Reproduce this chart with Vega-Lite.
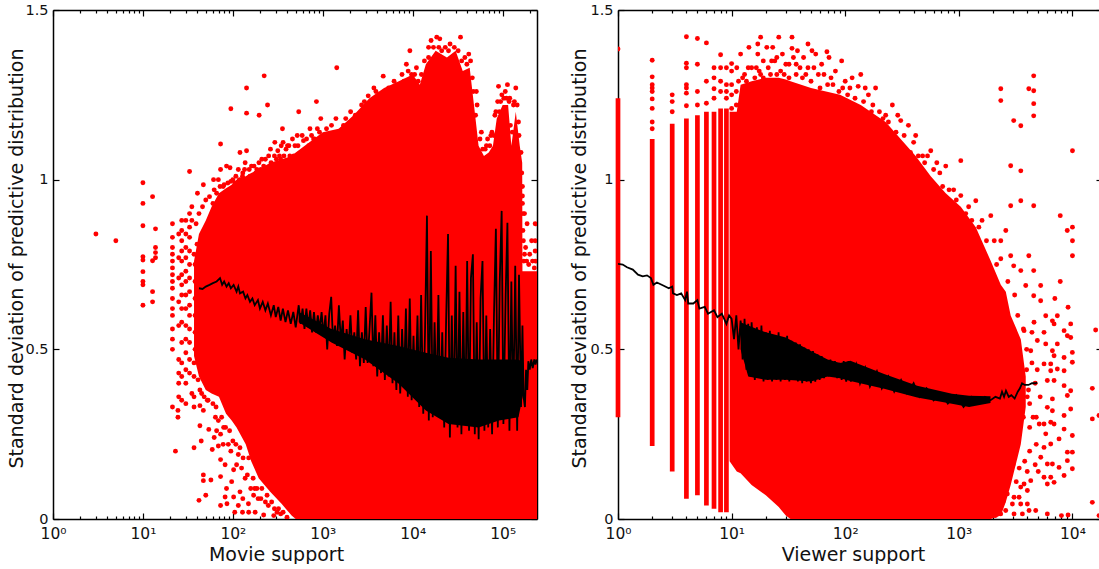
{"$schema":"https://vega.github.io/schema/vega-lite/v6.json","padding":{"left":6,"top":2,"right":0,"bottom":0},"background":"white","bounds":"flush","spacing":81,
"config":{"view":{"stroke":null},"axis":{"labelFont":"DejaVu Sans","titleFont":"DejaVu Sans","labelFontSize":14.5,"titleFontSize":19,"titleFontWeight":"normal","labelColor":"#111","titleColor":"#111","tickColor":"#000","domainColor":"#000","domainWidth":1.5,"tickWidth":1.2,"grid":false,"zindex":1,"labelFlush":false}},
"datasets":{
"lArea":[{"x":37,"lo":0.48,"hi":0.76},{"x":42,"lo":0.42,"hi":0.84},{"x":50,"lo":0.38,"hi":0.88},{"x":58,"lo":0.37,"hi":0.92},{"x":70,"lo":0.36,"hi":0.96},{"x":84,"lo":0.31,"hi":0.975},{"x":97,"lo":0.29,"hi":0.985},{"x":110,"lo":0.27,"hi":1.0},{"x":139,"lo":0.22,"hi":1.01},{"x":160,"lo":0.17,"hi":1.02},{"x":194,"lo":0.12,"hi":1.03},{"x":260,"lo":0.08,"hi":1.05},{"x":350,"lo":0.044,"hi":1.06},{"x":450,"lo":0.01,"hi":1.07},{"x":500,"lo":0,"hi":1.08},{"x":1000,"lo":0,"hi":1.14},{"x":1500,"lo":0,"hi":1.15},{"x":2200,"lo":0,"hi":1.19},{"x":3300,"lo":0,"hi":1.24},{"x":4800,"lo":0,"hi":1.27},{"x":7000,"lo":0,"hi":1.29},{"x":10000,"lo":0,"hi":1.31},{"x":12000,"lo":0,"hi":1.28},{"x":14000,"lo":0,"hi":1.34},{"x":18000,"lo":0,"hi":1.38},{"x":24000,"lo":0,"hi":1.36},{"x":30000,"lo":0,"hi":1.38},{"x":36000,"lo":0,"hi":1.32},{"x":43000,"lo":0,"hi":1.33},{"x":48000,"lo":0,"hi":1.22},{"x":54000,"lo":0,"hi":1.1},{"x":62000,"lo":0,"hi":1.07},{"x":70000,"lo":0,"hi":1.08},{"x":78000,"lo":0,"hi":1.1},{"x":86000,"lo":0,"hi":1.18},{"x":100000,"lo":0,"hi":1.22},{"x":115000,"lo":0,"hi":1.22},{"x":125000,"lo":0,"hi":1.1},{"x":140000,"lo":0,"hi":1.2},{"x":155000,"lo":0,"hi":1.1},{"x":165000,"lo":0,"hi":1.05},{"x":166000,"lo":0,"hi":0.73},{"x":241000,"lo":0,"hi":0.73}],
"lDots":[{"x":3,"y":0.84},{"x":5,"y":0.82},{"x":10,"y":0.991},{"x":10,"y":0.93},{"x":10,"y":0.864},{"x":10,"y":0.773},{"x":10,"y":0.763},{"x":10,"y":0.729},{"x":10,"y":0.7},{"x":10,"y":0.69},{"x":10,"y":0.63},{"x":12.8,"y":0.95},{"x":12.8,"y":0.761},{"x":12.8,"y":0.67},{"x":12.8,"y":0.64},{"x":13.8,"y":0.855},{"x":13.8,"y":0.8},{"x":13.8,"y":0.785},{"x":13.8,"y":0.77},
{"x":21.3,"y":0.87},{"x":21.3,"y":0.83},{"x":21.3,"y":0.8},{"x":21.3,"y":0.78},{"x":21.3,"y":0.76},{"x":21.3,"y":0.74},{"x":21.3,"y":0.72},{"x":21.3,"y":0.7},{"x":21.3,"y":0.68},{"x":21.3,"y":0.65},{"x":21.3,"y":0.62},{"x":21.3,"y":0.6},{"x":21.3,"y":0.56},{"x":21.3,"y":0.53},{"x":21.3,"y":0.5},{"x":21.3,"y":0.33},
{"x":23,"y":0.2},{"x":24.5,"y":0.3},{"x":24.5,"y":0.32},{"x":25,"y":0.84},{"x":25,"y":0.77},{"x":25,"y":0.71},{"x":25,"y":0.64},{"x":25,"y":0.57},{"x":25,"y":0.47},{"x":25,"y":0.43},{"x":25,"y":0.4},{"x":25,"y":0.36},
{"x":27,"y":0.88},{"x":27,"y":0.85},{"x":27,"y":0.82},{"x":27,"y":0.79},{"x":27,"y":0.76},{"x":27,"y":0.72},{"x":27,"y":0.69},{"x":27,"y":0.66},{"x":27,"y":0.62},{"x":27,"y":0.58},{"x":27,"y":0.52},{"x":27,"y":0.46},{"x":27,"y":0.42},{"x":27,"y":0.35},
{"x":30,"y":0.88},{"x":30,"y":0.84},{"x":30,"y":0.8},{"x":30,"y":0.77},{"x":30,"y":0.73},{"x":30,"y":0.7},{"x":30,"y":0.66},{"x":30,"y":0.62},{"x":30,"y":0.57},{"x":30,"y":0.53},{"x":30,"y":0.49},{"x":30,"y":0.44},{"x":30,"y":0.4},{"x":30,"y":0.34},
{"x":33,"y":1.024},{"x":33,"y":0.9},{"x":33,"y":0.86},{"x":33,"y":0.83},{"x":33,"y":0.79},{"x":33,"y":0.75},{"x":33,"y":0.71},{"x":33,"y":0.67},{"x":33,"y":0.63},{"x":33,"y":0.6},{"x":33,"y":0.56},{"x":33,"y":0.52},{"x":33,"y":0.47},{"x":33,"y":0.43},{"x":35,"y":0.37},{"x":35,"y":0.88},{"x":35,"y":0.92},
{"x":37,"y":0.33},{"x":37,"y":0.21},{"x":37,"y":0.42},{"x":37,"y":0.36},{"x":39,"y":0.87},{"x":40.4,"y":0.96},{"x":42,"y":0.055},{"x":42,"y":0.9},{"x":43,"y":0.334},{"x":43,"y":0.275},{"x":43,"y":0.38},{"x":44.5,"y":0.23},{"x":46,"y":0.92},{"x":47,"y":0.985},{"x":47,"y":0.32},{"x":47,"y":0.13},{"x":47,"y":0.113},{"x":50,"y":0.07},{"x":50,"y":0.94},{"x":52,"y":0.35},{"x":54,"y":0.264},{"x":55,"y":0.95},{"x":57,"y":0.115},{"x":59,"y":0.205},{"x":61,"y":1.0},{"x":62,"y":0.24},{"x":62,"y":0.97},{"x":65,"y":0.33},{"x":69,"y":1.0},{"x":69,"y":0.215},{"x":69,"y":0.29},{"x":73,"y":1.105},{"x":73,"y":1.03},{"x":73,"y":0.25},{"x":73,"y":0.175},{"x":73,"y":0.125},{"x":73,"y":0.04},{"x":78,"y":0.98},{"x":82,"y":0.065},{"x":82,"y":0.16},{"x":85,"y":1.04},{"x":85,"y":0.09},{"x":86,"y":0.045},{"x":89,"y":0.22},{"x":93,"y":1.035},{"x":95,"y":1.209},{"x":97,"y":0.11},{"x":102,"y":0.065},{"x":102,"y":0.145},{"x":105,"y":0.99},{"x":115,"y":1.03},{"x":115,"y":0.04},{"x":115,"y":0.19},{"x":120,"y":1.08},{"x":120,"y":0.08},{"x":125,"y":1.0},{"x":129,"y":1.02},{"x":129,"y":0.06},{"x":137,"y":1.05},{"x":137,"y":0.12},{"x":142,"y":1.27},{"x":142,"y":1.196},{"x":142,"y":1.085},{"x":149,"y":0.045},{"x":155,"y":1.01},{"x":158,"y":0.09},{"x":161,"y":1.04},{"x":177,"y":0.02},{"x":180,"y":1.02},{"x":191,"y":0.06},{"x":196,"y":1.19},{"x":205,"y":1.03},{"x":220,"y":1.04},{"x":220,"y":0.012},{"x":223,"y":1.306},{"x":243,"y":1.22},{"x":248,"y":0.04},{"x":266,"y":1.05},{"x":285,"y":0.01},{"x":293,"y":1.11},{"x":316,"y":1.085},{"x":322,"y":0.03},{"x":340,"y":1.06},{"x":356,"y":1.15},{"x":362,"y":1.11},{"x":362,"y":0.02},{"x":405,"y":1.1},{"x":430,"y":1.07},{"x":476,"y":1.07},{"x":520,"y":1.13},{"x":540,"y":1.2},{"x":610,"y":1.115},{"x":680,"y":1.07},{"x":720,"y":1.15},{"x":790,"y":1.12},{"x":850,"y":1.23},{"x":920,"y":1.14},{"x":1100,"y":1.15},{"x":1430,"y":1.33},{"x":1300,"y":1.13},{"x":1700,"y":1.16},{"x":2040,"y":1.2},{"x":2500,"y":1.18},{"x":2900,"y":1.23},{"x":3200,"y":1.247},{"x":3900,"y":1.26},{"x":4700,"y":1.305},{"x":5400,"y":1.27},{"x":6200,"y":1.29},{"x":7600,"y":1.31},{"x":8900,"y":1.32},{"x":9300,"y":1.38},{"x":11000,"y":1.33},{"x":13500,"y":1.35},{"x":16000,"y":1.41},{"x":18500,"y":1.42},{"x":20000,"y":1.415},{"x":23000,"y":1.39},{"x":28000,"y":1.35},{"x":34000,"y":1.42},{"x":38000,"y":1.36},{"x":42000,"y":1.37},{"x":46000,"y":1.3},{"x":51000,"y":1.26},{"x":58000,"y":1.14},{"x":66000,"y":1.1},{"x":74000,"y":1.13},{"x":82000,"y":1.19},{"x":90000,"y":1.275},{"x":95000,"y":1.23},{"x":107000,"y":1.26},{"x":120000,"y":1.24},{"x":140000,"y":1.27},{"x":132000,"y":1.22},{"x":150000,"y":1.17},{"x":166000,"y":0.952},{"x":166000,"y":0.93},{"x":175000,"y":0.9},{"x":187000,"y":0.87},{"x":210000,"y":0.82},{"x":230000,"y":0.87},{"x":230000,"y":0.82},{"x":230000,"y":0.79},{"x":230000,"y":0.76},{"x":225000,"y":0.74},{"x":220000,"y":0.08},{"x":235000,"y":0.06},{"x":200000,"y":0.78},{"x":180000,"y":0.8},{"x":172000,"y":0.76},
{"x":60,"y":0.93},{"x":66,"y":0.96},{"x":72,"y":0.98},{"x":80,"y":0.985},{"x":88,"y":0.99},{"x":95,"y":0.995},{"x":100,"y":1.0},{"x":108,"y":1.01},{"x":112,"y":0.99},{"x":118,"y":1.0},{"x":128,"y":1.01},{"x":135,"y":1.03},{"x":146,"y":1.0},{"x":152,"y":1.03},{"x":168,"y":1.01},{"x":172,"y":1.04},{"x":185,"y":1.03},{"x":195,"y":1.05},{"x":210,"y":1.06},{"x":215,"y":1.01},{"x":230,"y":1.06},{"x":240,"y":1.03},{"x":250,"y":1.07},{"x":262,"y":1.09},{"x":275,"y":1.04},{"x":290,"y":1.07},{"x":305,"y":1.06},{"x":330,"y":1.07},{"x":345,"y":1.1},{"x":370,"y":1.07},{"x":390,"y":1.09},{"x":420,"y":1.1},{"x":440,"y":1.05},{"x":460,"y":1.12},{"x":490,"y":1.1},{"x":510,"y":1.07},{"x":530,"y":1.1},{"x":560,"y":1.06},{"x":590,"y":1.13},{"x":640,"y":1.08},{"x":660,"y":1.12},{"x":700,"y":1.1},{"x":750,"y":1.13},{"x":810,"y":1.12},{"x":870,"y":1.15},{"x":950,"y":1.18},{"x":1020,"y":1.12},{"x":1150,"y":1.12},{"x":1250,"y":1.16},{"x":1400,"y":1.18},{"x":1600,"y":1.13},{"x":1800,"y":1.18},{"x":2100,"y":1.17},{"x":2300,"y":1.19},{"x":2700,"y":1.22},{"x":3000,"y":1.21},{"x":3500,"y":1.23},{"x":3700,"y":1.27},{"x":4300,"y":1.25},{"x":5000,"y":1.26},{"x":5800,"y":1.25},{"x":6800,"y":1.28},{"x":8000,"y":1.29},{"x":8500,"y":1.34},{"x":9700,"y":1.31},{"x":10500,"y":1.31},{"x":11500,"y":1.29},{"x":12500,"y":1.31},{"x":13000,"y":1.28},{"x":15000,"y":1.36},{"x":15000,"y":1.39},{"x":17000,"y":1.39},{"x":19500,"y":1.39},{"x":21000,"y":1.38},{"x":25000,"y":1.38},{"x":26000,"y":1.4},{"x":29000,"y":1.39},{"x":32000,"y":1.38},{"x":35000,"y":1.35},{"x":40000,"y":1.34},{"x":44000,"y":1.35},{"x":47000,"y":1.26},{"x":50000,"y":1.19},{"x":52000,"y":1.22},{"x":56000,"y":1.12},{"x":60000,"y":1.09},{"x":64000,"y":1.09},{"x":68000,"y":1.12},{"x":72000,"y":1.1},{"x":76000,"y":1.14},{"x":80000,"y":1.13},{"x":84000,"y":1.2},{"x":88000,"y":1.23},{"x":92000,"y":1.2},{"x":98000,"y":1.25},{"x":103000,"y":1.24},{"x":110000,"y":1.24},{"x":113000,"y":1.28},{"x":118000,"y":1.23},{"x":122000,"y":1.16},{"x":128000,"y":1.14},{"x":135000,"y":1.23},{"x":145000,"y":1.22},{"x":152000,"y":1.13},{"x":160000,"y":1.08},{"x":163000,"y":1.02},{"x":166000,"y":0.98},{"x":168000,"y":0.9},{"x":168000,"y":0.85},{"x":170000,"y":0.82},{"x":175000,"y":0.78},{"x":185000,"y":0.76},{"x":195000,"y":0.75},{"x":215000,"y":0.76},
{"x":37,"y":0.46},{"x":38,"y":0.5},{"x":38,"y":0.55},{"x":38,"y":0.6},{"x":38,"y":0.65},{"x":38,"y":0.7},{"x":38,"y":0.75},{"x":37,"y":0.78},{"x":40,"y":0.81},{"x":41,"y":0.41},{"x":45,"y":0.37},{"x":48,"y":0.36},{"x":53,"y":0.35},{"x":60,"y":0.34},{"x":64,"y":0.3},{"x":66,"y":0.26},{"x":75,"y":0.3},{"x":79,"y":0.27},{"x":78,"y":0.22},{"x":83,"y":0.27},{"x":92,"y":0.26},{"x":95,"y":0.2},{"x":100,"y":0.23},{"x":108,"y":0.22},{"x":110,"y":0.16},{"x":120,"y":0.21},{"x":125,"y":0.15},{"x":130,"y":0.18},{"x":145,"y":0.13},{"x":150,"y":0.18},{"x":168,"y":0.12},{"x":175,"y":0.09},{"x":185,"y":0.09},{"x":170,"y":0.07},{"x":205,"y":0.06},{"x":210,"y":0.09},{"x":230,"y":0.05},{"x":240,"y":0.07},{"x":270,"y":0.05},{"x":290,"y":0.03},{"x":310,"y":0.02},{"x":340,"y":0.015},{"x":400,"y":0.005},{"x":150,"y":0.02},{"x":128,"y":0.02},{"x":105,"y":0.02}],
"lCore":[{"x":540,"lo":0.58,"hi":0.61},{"x":1250,"lo":0.52,"hi":0.56},{"x":2950,"lo":0.47,"hi":0.53},{"x":6900,"lo":0.4,"hi":0.51},{"x":14000,"lo":0.32,"hi":0.49},{"x":25000,"lo":0.28,"hi":0.475},{"x":54000,"lo":0.27,"hi":0.47},{"x":91000,"lo":0.29,"hi":0.47},{"x":150000,"lo":0.3,"hi":0.47},{"x":170000,"lo":0.37,"hi":0.46}],
"lLine":[{"x":42,"y":0.68},{"x":46,"y":0.678},{"x":50,"y":0.685},{"x":55,"y":0.69},{"x":60,"y":0.695},{"x":66,"y":0.7},{"x":72,"y":0.71},{"x":76,"y":0.69},{"x":80,"y":0.7},{"x":85,"y":0.685},{"x":90,"y":0.695},{"x":95,"y":0.68},{"x":102,"y":0.69},{"x":110,"y":0.67},{"x":115,"y":0.685},{"x":120,"y":0.665},{"x":130,"y":0.67},{"x":138,"y":0.65},{"x":145,"y":0.66},{"x":155,"y":0.64},{"x":165,"y":0.65},{"x":175,"y":0.63},{"x":190,"y":0.645},{"x":200,"y":0.62},{"x":215,"y":0.64},{"x":230,"y":0.615},{"x":245,"y":0.635},{"x":265,"y":0.6},{"x":285,"y":0.63},{"x":300,"y":0.595},{"x":320,"y":0.625},{"x":340,"y":0.585},{"x":360,"y":0.62},{"x":385,"y":0.58},{"x":410,"y":0.615},{"x":440,"y":0.575},{"x":470,"y":0.61},{"x":500,"y":0.565},{"x":540,"y":0.63},{"x":567,"y":0.575},{"x":596,"y":0.62},{"x":626,"y":0.56},{"x":657,"y":0.62},{"x":690,"y":0.565},{"x":724,"y":0.615},{"x":760,"y":0.55},{"x":798,"y":0.61},{"x":838,"y":0.55},{"x":880,"y":0.6},{"x":924,"y":0.56},{"x":970,"y":0.61},{"x":1020,"y":0.54},{"x":1070,"y":0.6},{"x":1120,"y":0.5},{"x":1180,"y":0.605},{"x":1240,"y":0.655},{"x":1300,"y":0.52},{"x":1370,"y":0.57},{"x":1440,"y":0.51},{"x":1510,"y":0.63},{"x":1590,"y":0.52},{"x":1670,"y":0.585},{"x":1750,"y":0.47},{"x":1840,"y":0.56},{"x":1930,"y":0.5},{"x":2030,"y":0.6},{"x":2130,"y":0.49},{"x":2240,"y":0.55},{"x":2350,"y":0.47},{"x":2470,"y":0.615},{"x":2590,"y":0.45},{"x":2720,"y":0.55},{"x":2860,"y":0.46},{"x":3000,"y":0.625},{"x":3150,"y":0.46},{"x":3310,"y":0.56},{"x":3480,"y":0.667},{"x":3650,"y":0.45},{"x":3840,"y":0.6},{"x":4030,"y":0.42},{"x":4230,"y":0.55},{"x":4440,"y":0.43},{"x":4660,"y":0.6},{"x":4900,"y":0.41},{"x":5150,"y":0.57},{"x":5410,"y":0.42},{"x":5680,"y":0.64},{"x":5960,"y":0.4},{"x":6260,"y":0.55},{"x":6580,"y":0.38},{"x":6910,"y":0.6},{"x":7260,"y":0.37},{"x":7620,"y":0.56},{"x":8000,"y":0.4},{"x":8400,"y":0.62},{"x":8820,"y":0.36},{"x":9270,"y":0.65},{"x":9730,"y":0.35},{"x":10200,"y":0.54},{"x":10700,"y":0.36},{"x":11300,"y":0.6},{"x":11800,"y":0.33},{"x":12400,"y":0.66},{"x":13100,"y":0.31},{"x":13700,"y":0.55},{"x":14400,"y":0.894},{"x":15100,"y":0.29},{"x":15900,"y":0.79},{"x":16700,"y":0.3},{"x":17500,"y":0.58},{"x":18400,"y":0.33},{"x":19300,"y":0.66},{"x":20300,"y":0.3},{"x":21300,"y":0.55},{"x":22400,"y":0.27},{"x":23500,"y":0.58},{"x":24700,"y":0.84},{"x":25900,"y":0.24},{"x":27200,"y":0.6},{"x":28600,"y":0.28},{"x":30000,"y":0.746},{"x":31500,"y":0.27},{"x":33100,"y":0.67},{"x":34800,"y":0.25},{"x":36500,"y":0.61},{"x":38400,"y":0.28},{"x":40300,"y":0.76},{"x":42300,"y":0.26},{"x":44400,"y":0.71},{"x":46700,"y":0.78},{"x":49000,"y":0.25},{"x":51500,"y":0.58},{"x":54100,"y":0.235},{"x":56800,"y":0.65},{"x":59700,"y":0.76},{"x":62700,"y":0.26},{"x":65800,"y":0.6},{"x":69100,"y":0.27},{"x":72600,"y":0.56},{"x":76300,"y":0.25},{"x":80100,"y":0.6},{"x":84100,"y":0.855},{"x":88400,"y":0.27},{"x":92800,"y":0.7},{"x":97500,"y":0.908},{"x":102000,"y":0.28},{"x":108000,"y":0.66},{"x":113000,"y":0.873},{"x":119000,"y":0.26},{"x":125000,"y":0.7},{"x":131000,"y":0.3},{"x":138000,"y":0.746},{"x":145000,"y":0.26},{"x":152000,"y":0.72},{"x":160000,"y":0.33},{"x":166000,"y":0.57},{"x":171000,"y":0.36},{"x":177000,"y":0.33},{"x":182000,"y":0.44},{"x":188000,"y":0.38},{"x":193000,"y":0.465},{"x":200000,"y":0.44},{"x":208000,"y":0.47},{"x":216000,"y":0.445},{"x":225000,"y":0.47},{"x":232000,"y":0.455},{"x":239000,"y":0.47}],
"rArea":[{"x":9.6,"lo":0.17,"hi":1.2},{"x":11.1,"lo":0.14,"hi":1.2},{"x":12,"lo":0.135,"hi":1.28},{"x":15,"lo":0.1,"hi":1.29},{"x":20,"lo":0.07,"hi":1.3},{"x":26,"lo":0.035,"hi":1.3},{"x":30,"lo":0.01,"hi":1.295},{"x":33,"lo":0,"hi":1.29},{"x":50,"lo":0,"hi":1.27},{"x":90,"lo":0,"hi":1.25},{"x":137,"lo":0,"hi":1.22},{"x":227,"lo":0,"hi":1.17},{"x":417,"lo":0,"hi":1.07},{"x":566,"lo":0,"hi":1.01},{"x":767,"lo":0,"hi":0.96},{"x":1040,"lo":0,"hi":0.92},{"x":1410,"lo":0,"hi":0.86},{"x":1910,"lo":0,"hi":0.76},{"x":2340,"lo":0.01,"hi":0.69},{"x":2590,"lo":0.05,"hi":0.67},{"x":2860,"lo":0.1,"hi":0.6},{"x":3510,"lo":0.22,"hi":0.53},{"x":3880,"lo":0.33,"hi":0.42}],
"rStripes":[{"x":1,"lo":0.3,"hi":1.24},{"x":2,"lo":0.215,"hi":1.12},{"x":3,"lo":0.14,"hi":1.165},{"x":4,"lo":0.06,"hi":1.18},{"x":5,"lo":0.07,"hi":1.19},{"x":6,"lo":0.04,"hi":1.2},{"x":7,"lo":0.03,"hi":1.2},{"x":8,"lo":0.02,"hi":1.21},{"x":9,"lo":0.02,"hi":1.21}],
"rDots":[{"x":1,"y":1.385},{"x":2,"y":1.352},{"x":2,"y":1.303},{"x":2,"y":1.28},{"x":2,"y":1.27},{"x":2,"y":1.26},{"x":2,"y":1.238},{"x":2,"y":1.21},{"x":2,"y":1.17},{"x":2,"y":1.15},{"x":3,"y":1.25},{"x":3,"y":1.23},{"x":3,"y":1.2},{"x":4,"y":1.421},{"x":4,"y":1.343},{"x":4,"y":1.33},{"x":4,"y":1.28},{"x":4,"y":1.27},{"x":4,"y":1.255},{"x":4,"y":1.218},{"x":5,"y":1.416},{"x":5,"y":1.34},{"x":5,"y":1.26},{"x":5,"y":1.22},{"x":6,"y":1.403},{"x":6,"y":1.29},{"x":6,"y":1.225},{"x":7,"y":1.33},{"x":7,"y":1.3},{"x":7,"y":1.268},{"x":7,"y":1.24},{"x":8,"y":1.368},{"x":8,"y":1.33},{"x":8,"y":1.29},{"x":8,"y":1.26},{"x":9,"y":1.33},{"x":9,"y":1.28},{"x":9,"y":1.26},{"x":9,"y":1.24},{"x":10,"y":1.342},{"x":10,"y":1.32},{"x":10,"y":1.28},{"x":10,"y":1.25},{"x":10,"y":1.21},{"x":11.1,"y":1.33},{"x":12,"y":1.37},{"x":13,"y":1.31},{"x":14.2,"y":1.39},{"x":15,"y":1.33},{"x":17,"y":1.4},{"x":17,"y":1.37},{"x":17.5,"y":1.32},{"x":18,"y":1.42},{"x":19,"y":1.35},{"x":20.4,"y":1.39},{"x":21,"y":1.33},{"x":23,"y":1.39},{"x":24,"y":1.35},{"x":26,"y":1.42},{"x":27,"y":1.32},{"x":28,"y":1.37},{"x":30,"y":1.34},{"x":34,"y":1.42},{"x":34,"y":1.387},{"x":35,"y":1.36},{"x":38,"y":1.38},{"x":40,"y":1.33},{"x":43,"y":1.36},{"x":47,"y":1.4},{"x":47,"y":1.33},{"x":51,"y":1.38},{"x":55,"y":1.37},{"x":58,"y":1.31},{"x":62,"y":1.34},{"x":69,"y":1.377},{"x":72,"y":1.36},{"x":75,"y":1.3},{"x":82,"y":1.32},{"x":93,"y":1.35},{"x":100,"y":1.29},{"x":115,"y":1.3},{"x":130,"y":1.275},{"x":137,"y":1.31},{"x":160,"y":1.25},{"x":185,"y":1.27},{"x":227,"y":1.19},{"x":260,"y":1.22},{"x":308,"y":1.174},{"x":360,"y":1.16},{"x":417,"y":1.13},{"x":480,"y":1.07},{"x":566,"y":1.085},{"x":680,"y":1.02},{"x":767,"y":1.04},{"x":900,"y":0.97},{"x":1040,"y":0.953},{"x":1040,"y":1.056},{"x":1220,"y":0.92},{"x":1410,"y":0.938},{"x":1600,"y":0.88},{"x":1910,"y":0.894},{"x":2050,"y":0.82},{"x":2340,"y":0.82},{"x":2340,"y":0.767},{"x":2340,"y":1.268},{"x":2340,"y":1.233},{"x":2590,"y":0.85},{"x":2860,"y":0.776},{"x":3040,"y":0.746},{"x":3040,"y":1.174},{"x":3510,"y":0.732},{"x":3510,"y":1.159},{"x":3510,"y":1.026},{"x":3510,"y":0.938},{"x":2860,"y":1.041},{"x":2860,"y":0.923},{"x":3880,"y":0.688},{"x":4130,"y":0.776},{"x":4130,"y":1.268},{"x":4560,"y":1.306},{"x":4560,"y":1.262},{"x":4560,"y":1.224},{"x":4560,"y":1.188},{"x":4560,"y":0.923},{"x":4560,"y":0.732},{"x":4560,"y":0.658},{"x":5250,"y":0.643},{"x":5250,"y":0.688},{"x":7810,"y":0.894},{"x":10000,"y":1.085},{"x":7810,"y":0.7},{"x":10000,"y":0.86},{"x":10000,"y":0.82},{"x":10000,"y":0.776},{"x":9000,"y":0.85},{"x":7000,"y":0.65},
{"x":9150,"y":0.624},{"x":9650,"y":0.575},{"x":9650,"y":0.535},{"x":9020,"y":0.54},{"x":8440,"y":0.555},{"x":7360,"y":0.599},{"x":6660,"y":0.584},{"x":5820,"y":0.599},{"x":6890,"y":0.575},{"x":5620,"y":0.55},{"x":7360,"y":0.516},{"x":6660,"y":0.496},{"x":5820,"y":0.516},{"x":4590,"y":0.58},{"x":4910,"y":0.526},{"x":4295,"y":0.496},{"x":3750,"y":0.555},{"x":6890,"y":0.481},{"x":6440,"y":0.457},{"x":8440,"y":0.476},{"x":9980,"y":0.491},{"x":9980,"y":0.462},{"x":8440,"y":0.437},{"x":7360,"y":0.442},{"x":6440,"y":0.437},{"x":5620,"y":0.457},{"x":6010,"y":0.408},{"x":6890,"y":0.408},{"x":8440,"y":0.393},{"x":9650,"y":0.378},{"x":9020,"y":0.364},{"x":6660,"y":0.354},{"x":6010,"y":0.329},{"x":6660,"y":0.319},{"x":9650,"y":0.324},{"x":8440,"y":0.305},{"x":6440,"y":0.285},{"x":5620,"y":0.28},{"x":6890,"y":0.28},{"x":8440,"y":0.265},{"x":9980,"y":0.246},{"x":7620,"y":0.236},{"x":6440,"y":0.221},{"x":5620,"y":0.211},{"x":5820,"y":0.251},{"x":9980,"y":0.197},{"x":9020,"y":0.197},{"x":9020,"y":0.172},{"x":7620,"y":0.152},{"x":9980,"y":0.148},{"x":8440,"y":0.128},{"x":6660,"y":0.162},{"x":6010,"y":0.162},{"x":5260,"y":0.182},{"x":6440,"y":0.123},{"x":6890,"y":0.108},{"x":6010,"y":0.103},{"x":5620,"y":0.123},{"x":4295,"y":0.113},{"x":3750,"y":0.103},{"x":3505,"y":0.094},{"x":4010,"y":0.084},{"x":3390,"y":0.064},{"x":3060,"y":0.064},{"x":2960,"y":0.044},{"x":3505,"y":0.044},{"x":4010,"y":0.044},{"x":3625,"y":0.015},{"x":4150,"y":0.025},{"x":4750,"y":0.025},{"x":6010,"y":0.015},{"x":3060,"y":0.015},{"x":2585,"y":0.025},{"x":2670,"y":0.074},{"x":2335,"y":0.015},{"x":14960,"y":0.385},{"x":16000,"y":0.557},{"x":14960,"y":0.295},{"x":17130,"y":0.305},{"x":14960,"y":0.049},{"x":17130,"y":0.01},{"x":8000,"y":0.01},{"x":9150,"y":0.012},{"x":4800,"y":0.3},{"x":4200,"y":0.34},{"x":4700,"y":0.4},{"x":5200,"y":0.36},{"x":4200,"y":0.2},{"x":4800,"y":0.22},{"x":5000,"y":0.14},{"x":4200,"y":0.27},{"x":3800,"y":0.17},{"x":3400,"y":0.15},{"x":3200,"y":0.11},
{"x":11,"y":1.22},{"x":11,"y":1.26},{"x":11.5,"y":1.29},{"x":12.5,"y":1.3},{"x":13.5,"y":1.29},{"x":14,"y":1.33},{"x":16,"y":1.3},{"x":16.5,"y":1.33},{"x":18,"y":1.31},{"x":19,"y":1.3},{"x":22,"y":1.31},{"x":22.5,"y":1.35},{"x":25,"y":1.31},{"x":25,"y":1.36},{"x":29,"y":1.31},{"x":32,"y":1.3},{"x":32,"y":1.34},{"x":37,"y":1.31},{"x":37,"y":1.34},{"x":42,"y":1.3},{"x":45,"y":1.31},{"x":50,"y":1.29},{"x":53,"y":1.33},{"x":60,"y":1.27},{"x":65,"y":1.31},{"x":70,"y":1.28},{"x":78,"y":1.28},{"x":88,"y":1.26},{"x":95,"y":1.27},{"x":105,"y":1.25},{"x":110,"y":1.27},{"x":122,"y":1.24},{"x":145,"y":1.23},{"x":150,"y":1.27},{"x":170,"y":1.2},{"x":175,"y":1.22},{"x":200,"y":1.2},{"x":215,"y":1.18},{"x":240,"y":1.17},{"x":280,"y":1.14},{"x":290,"y":1.19},{"x":330,"y":1.13},{"x":375,"y":1.08},{"x":400,"y":1.11},{"x":440,"y":1.07},{"x":500,"y":1.05},{"x":530,"y":1.07},{"x":600,"y":1.03},{"x":640,"y":1.05},{"x":720,"y":0.98},{"x":820,"y":0.97},{"x":950,"y":0.94},{"x":1150,"y":0.9},{"x":1300,"y":0.88},{"x":1500,"y":0.86},{"x":1750,"y":0.82},{"x":2150,"y":0.75},{"x":2700,"y":0.7},{"x":3100,"y":0.66},{"x":3300,"y":0.6},{"x":3700,"y":0.56},{"x":3950,"y":0.5},{"x":3950,"y":0.44},{"x":4100,"y":0.38},{"x":3700,"y":0.3},{"x":3300,"y":0.23},{"x":3000,"y":0.16},{"x":2700,"y":0.12},{"x":2450,"y":0.05},{"x":2100,"y":0.01},{"x":4400,"y":0.55},{"x":4400,"y":0.46},{"x":4900,"y":0.44},{"x":4000,"y":0.36},{"x":4500,"y":0.3},{"x":5100,"y":0.28},{"x":4700,"y":0.16},{"x":4000,"y":0.14}],
"rCore":[{"x":12,"lo":0.5,"hi":0.58},{"x":14,"lo":0.42,"hi":0.57},{"x":20,"lo":0.41,"hi":0.55},{"x":30,"lo":0.41,"hi":0.535},{"x":50,"lo":0.405,"hi":0.495},{"x":70,"lo":0.42,"hi":0.47},{"x":90,"lo":0.415,"hi":0.46},{"x":111,"lo":0.407,"hi":0.466},{"x":220,"lo":0.384,"hi":0.427},{"x":430,"lo":0.358,"hi":0.393},{"x":870,"lo":0.34,"hi":0.369},{"x":1230,"lo":0.33,"hi":0.363},{"x":1900,"lo":0.342,"hi":0.362}],
"rLine":[{"x":1,"y":0.752},{"x":1.1,"y":0.75},{"x":1.2,"y":0.742},{"x":1.35,"y":0.735},{"x":1.5,"y":0.72},{"x":1.65,"y":0.715},{"x":1.8,"y":0.718},{"x":1.95,"y":0.71},{"x":2.05,"y":0.69},{"x":2.2,"y":0.697},{"x":2.5,"y":0.688},{"x":2.8,"y":0.68},{"x":3,"y":0.685},{"x":3.05,"y":0.665},{"x":3.3,"y":0.66},{"x":3.6,"y":0.665},{"x":3.9,"y":0.645},{"x":4.05,"y":0.67},{"x":4.15,"y":0.635},{"x":4.6,"y":0.635},{"x":5,"y":0.645},{"x":5.2,"y":0.62},{"x":5.8,"y":0.625},{"x":6.2,"y":0.605},{"x":7,"y":0.615},{"x":7.5,"y":0.595},{"x":8.2,"y":0.605},{"x":9,"y":0.575},{"x":9.5,"y":0.6},{"x":10,"y":0.59},{"x":10.5,"y":0.53},{"x":11,"y":0.6},{"x":11.5,"y":0.5},{"x":12,"y":0.585},{"x":12.5,"y":0.47},{"x":13,"y":0.59},{"x":13.5,"y":0.44},{"x":14,"y":0.575},{"x":14.6,"y":0.42},{"x":15,"y":0.58},{"x":16,"y":0.41},{"x":16.7,"y":0.565},{"x":17.5,"y":0.42},{"x":18.3,"y":0.57},{"x":19.1,"y":0.405},{"x":20,"y":0.55},{"x":20.8,"y":0.41},{"x":21.7,"y":0.555},{"x":22.7,"y":0.405},{"x":23.7,"y":0.54},{"x":24.8,"y":0.41},{"x":25.9,"y":0.55},{"x":27,"y":0.405},{"x":28.2,"y":0.535},{"x":29.5,"y":0.41},{"x":30.8,"y":0.54},{"x":32.2,"y":0.405},{"x":33.6,"y":0.525},{"x":35.1,"y":0.41},{"x":36.7,"y":0.52},{"x":38.3,"y":0.405},{"x":40,"y":0.515},{"x":41.8,"y":0.4},{"x":43.7,"y":0.505},{"x":45.7,"y":0.405},{"x":47.7,"y":0.5},{"x":49.9,"y":0.4},{"x":52,"y":0.495},{"x":54.5,"y":0.405},{"x":57,"y":0.485},{"x":59.5,"y":0.41},{"x":62,"y":0.48},{"x":65,"y":0.415},{"x":68,"y":0.47},{"x":71,"y":0.42},{"x":74,"y":0.47},{"x":77.6,"y":0.42},{"x":81,"y":0.465},{"x":85,"y":0.415},{"x":89,"y":0.46},{"x":93,"y":0.41},{"x":97,"y":0.465},{"x":102,"y":0.405},{"x":107,"y":0.465},{"x":112,"y":0.405},{"x":125,"y":0.455},{"x":135,"y":0.4},{"x":150,"y":0.445},{"x":165,"y":0.39},{"x":190,"y":0.435},{"x":210,"y":0.385},{"x":240,"y":0.42},{"x":270,"y":0.375},{"x":310,"y":0.41},{"x":350,"y":0.37},{"x":400,"y":0.4},{"x":450,"y":0.36},{"x":520,"y":0.385},{"x":600,"y":0.35},{"x":700,"y":0.37},{"x":800,"y":0.34},{"x":950,"y":0.365},{"x":1100,"y":0.33},{"x":1300,"y":0.36},{"x":1500,"y":0.34},{"x":1700,"y":0.36},{"x":1900,"y":0.35},{"x":2100,"y":0.36},{"x":2300,"y":0.355},{"x":2400,"y":0.375},{"x":2500,"y":0.36},{"x":2600,"y":0.378},{"x":2750,"y":0.36},{"x":2900,"y":0.365},{"x":3100,"y":0.355},{"x":3300,"y":0.375},{"x":3450,"y":0.385},{"x":3600,"y":0.4},{"x":3800,"y":0.395},{"x":4100,"y":0.395},{"x":4400,"y":0.4},{"x":4700,"y":0.4},{"x":4900,"y":0.402}]
},
"hconcat":[
{"width":484,"height":509,"resolve":{"axis":{"x":"independent","y":"independent"}},"layer":[
{"data":{"name":"lArea"},"mark":{"type":"area","color":"#ff0000","clip":true},"encoding":{"x":{"field":"x","type":"quantitative","scale":{"type":"log","domain":[1,241000],"nice":false},"axis":{"orient":"bottom","values":[1,10,100,1000,10000,100000],"labelExpr":"{'1':'10⁰','10':'10¹','100':'10²','1000':'10³','10000':'10⁴','100000':'10⁵'}[datum.value]","labelFontSize":15.5,"tickSize":-6,"labelPadding":13,"title":"Movie support","titleX":223,"titleY":26}},"y":{"field":"lo","type":"quantitative","scale":{"domain":[0,1.5],"nice":false},"axis":{"orient":"left","values":[0,0.5,1,1.5],"format":"~g","tickSize":-6,"labelPadding":11,"title":"Standard deviation of predictive distribution","titleX":-27,"titleY":248}},"y2":{"field":"hi"}}},
{"data":{"name":"lDots"},"mark":{"type":"circle","color":"#ff0000","size":24,"opacity":1,"clip":true},"encoding":{"x":{"field":"x","type":"quantitative","scale":{"type":"log"},"axis":{"orient":"bottom","values":[2,3,4,5,6,7,8,9,20,30,40,50,60,70,80,90,200,300,400,500,600,700,800,900,2000,3000,4000,5000,6000,7000,8000,9000,20000,30000,40000,50000,60000,70000,80000,90000,200000],"labels":false,"domain":false,"tickSize":-3,"title":null}},"y":{"field":"y","type":"quantitative","axis":{"orient":"right","values":[0,0.5,1,1.5],"labels":false,"tickSize":-6,"title":null}}}},
{"data":{"name":"lCore"},"mark":{"type":"area","color":"#000000","clip":true},"encoding":{"x":{"field":"x","type":"quantitative","scale":{"type":"log"},"axis":{"orient":"top","values":[1,10,100,1000,10000,100000],"labels":false,"tickSize":-6,"title":null}},"y":{"field":"lo","type":"quantitative","axis":null},"y2":{"field":"hi"}}},
{"data":{"name":"lLine"},"mark":{"type":"line","color":"#000000","strokeWidth":1.8,"clip":true},"encoding":{"x":{"field":"x","type":"quantitative","scale":{"type":"log"},"axis":{"orient":"top","values":[2,3,4,5,6,7,8,9,20,30,40,50,60,70,80,90,200,300,400,500,600,700,800,900,2000,3000,4000,5000,6000,7000,8000,9000,20000,30000,40000,50000,60000,70000,80000,90000,200000],"labels":false,"domain":false,"tickSize":-3,"title":null}},"y":{"field":"y","type":"quantitative","axis":null}}}
]},
{"width":484,"height":509,"resolve":{"axis":{"x":"independent","y":"independent"}},"layer":[
{"data":{"name":"rArea"},"mark":{"type":"area","color":"#ff0000","clip":true},"encoding":{"x":{"field":"x","type":"quantitative","scale":{"type":"log","domain":[1,18200],"nice":false},"axis":{"orient":"bottom","values":[1,10,100,1000,10000],"labelExpr":"{'1':'10⁰','10':'10¹','100':'10²','1000':'10³','10000':'10⁴'}[datum.value]","labelFontSize":15.5,"tickSize":-6,"labelPadding":13,"title":"Viewer support","titleX":235,"titleY":26}},"y":{"field":"lo","type":"quantitative","scale":{"domain":[0,1.5],"nice":false},"axis":{"orient":"left","values":[0,0.5,1,1.5],"format":"~g","tickSize":-6,"labelPadding":11,"title":"Standard deviation of predictive distribution","titleX":-29,"titleY":248}},"y2":{"field":"hi"}}},
{"data":{"name":"rStripes"},"mark":{"type":"rule","color":"#ff0000","strokeWidth":4.7},"encoding":{"x":{"field":"x","type":"quantitative","scale":{"type":"log"},"axis":{"orient":"bottom","values":[2,3,4,5,6,7,8,9,20,30,40,50,60,70,80,90,200,300,400,500,600,700,800,900,2000,3000,4000,5000,6000,7000,8000,9000],"labels":false,"domain":false,"tickSize":-3,"title":null}},"y":{"field":"lo","type":"quantitative","axis":{"orient":"right","values":[0,0.5,1,1.5],"labels":false,"tickSize":-6,"title":null}},"y2":{"field":"hi"}}},
{"data":{"name":"rDots"},"mark":{"type":"circle","color":"#ff0000","size":24,"opacity":1,"clip":true},"encoding":{"x":{"field":"x","type":"quantitative","scale":{"type":"log"},"axis":{"orient":"top","values":[1,10,100,1000,10000],"labels":false,"tickSize":-6,"title":null}},"y":{"field":"y","type":"quantitative","axis":null}}},
{"data":{"name":"rCore"},"mark":{"type":"area","color":"#000000","clip":true},"encoding":{"x":{"field":"x","type":"quantitative","scale":{"type":"log"},"axis":{"orient":"top","values":[2,3,4,5,6,7,8,9,20,30,40,50,60,70,80,90,200,300,400,500,600,700,800,900,2000,3000,4000,5000,6000,7000,8000,9000],"labels":false,"domain":false,"tickSize":-3,"title":null}},"y":{"field":"lo","type":"quantitative","axis":null},"y2":{"field":"hi"}}},
{"data":{"name":"rLine"},"mark":{"type":"line","color":"#000000","strokeWidth":1.8,"clip":true},"encoding":{"x":{"field":"x","type":"quantitative","scale":{"type":"log"},"axis":null},"y":{"field":"y","type":"quantitative","axis":null}}}
]}
]}
